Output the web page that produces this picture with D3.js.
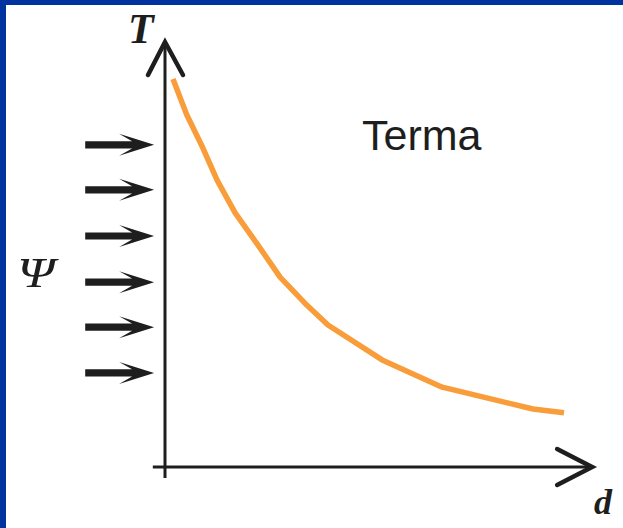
<!DOCTYPE html>
<html>
<head>
<meta charset="utf-8">
<script src="https://cdn.jsdelivr.net/npm/d3@7"></script>
<style>
  html, body { margin: 0; padding: 0; background: #0033a0; }
  svg { display: block; }
</style>
</head>
<body>
<svg id="chart" width="623" height="528"></svg>
<script>
// Depth d (arbitrary units) and Terma T (arbitrary units)
const depth = [0.19, 0.52, 0.90, 1.24, 1.67, 2.21, 2.74, 3.33, 3.88, 5.17, 6.60, 8.76, 9.50];
const terma = [9.24, 8.38, 7.60, 6.83, 6.05, 5.29, 4.52, 3.90, 3.38, 2.55, 1.90, 1.38, 1.29];
// Incoming fluence (Psi) arrow levels on the T axis
const psiLevels = [7.67, 6.60, 5.50, 4.40, 3.33, 2.24];
const labels = { y: "T", x: "d", psi: "Ψ", curve: "Terma" };

const svg = d3.select("#chart");
// white panel inside blue frame
svg.append("rect").attr("x", 6).attr("y", 5).attr("width", 617).attr("height", 523).attr("fill", "#fff");

const x = d3.scaleLinear().domain([0, 10]).range([165, 585]);
const y = d3.scaleLinear().domain([0, 10]).range([467, 47]);

const ink = "#1e1e1e";

// Y axis
svg.append("line")
  .attr("x1", x(0)).attr("x2", x(0))
  .attr("y1", y(-0.26)).attr("y2", y(10.12))
  .attr("stroke", ink).attr("stroke-width", 3);
// X axis
svg.append("line")
  .attr("x1", x(-0.29)).attr("x2", x(10.17))
  .attr("y1", y(0)).attr("y2", y(0))
  .attr("stroke", ink).attr("stroke-width", 3);

// Axis arrowheads (open chevrons)
const yt = [x(0), y(10.12)];
svg.append("path")
  .attr("d", `M${yt[0]-17},${yt[1]+33} L${yt[0]},${yt[1]} L${yt[0]+18},${yt[1]+33}`)
  .attr("fill", "none").attr("stroke", ink).attr("stroke-width", 4.5)
  .attr("stroke-linecap", "round").attr("stroke-linejoin", "miter");
const xt = [x(10.17), y(0)];
svg.append("path")
  .attr("d", `M${xt[0]-35},${xt[1]-18} L${xt[0]},${xt[1]} L${xt[0]-35},${xt[1]+18}`)
  .attr("fill", "none").attr("stroke", ink).attr("stroke-width", 4.5)
  .attr("stroke-linecap", "round").attr("stroke-linejoin", "miter");

// Curve
const line = d3.line().x((d, i) => x(depth[i])).y((d, i) => y(terma[i]));
svg.append("path")
  .datum(depth)
  .attr("d", line)
  .attr("fill", "none")
  .attr("stroke", "#f99d3a")
  .attr("stroke-width", 5.5)
  .attr("stroke-linejoin", "round");

// Psi arrows
const ax0 = x(-1.90), ax1 = x(-0.26);
svg.selectAll("path.psi")
  .data(psiLevels)
  .join("path")
  .attr("class", "psi")
  .attr("fill", ink)
  .attr("d", v => {
    const ty = y(v), tx = ax1;
    return `M${tx},${ty} L${tx-35},${ty-11} L${tx-22},${ty-3.6} L${ax0},${ty-3.6} L${ax0},${ty+3.6} L${tx-22},${ty+3.6} L${tx-35},${ty+11} Z`;
  });

// Labels
const serif = "'Liberation Serif', 'DejaVu Serif', serif";
svg.append("text").attr("x", 128).attr("y", 43)
  .attr("font-family", serif).attr("font-style", "italic").attr("font-weight", "bold")
  .attr("font-size", 42).attr("fill", ink).text(labels.y);
svg.append("text").attr("x", 594).attr("y", 514)
  .attr("font-family", serif).attr("font-style", "italic").attr("font-weight", "bold")
  .attr("font-size", 36).attr("fill", ink).text(labels.x);
svg.append("text")
  .attr("transform", "translate(17,287) scale(1.25,1)")
  .attr("font-family", serif).attr("font-style", "italic")
  .attr("font-size", 43).attr("fill", ink).text(labels.psi);
svg.append("text").attr("x", 362).attr("y", 150)
  .attr("font-family", "'Liberation Sans', Arial, sans-serif")
  .attr("font-size", 43).attr("fill", ink).text(labels.curve);
</script>
</body>
</html>
